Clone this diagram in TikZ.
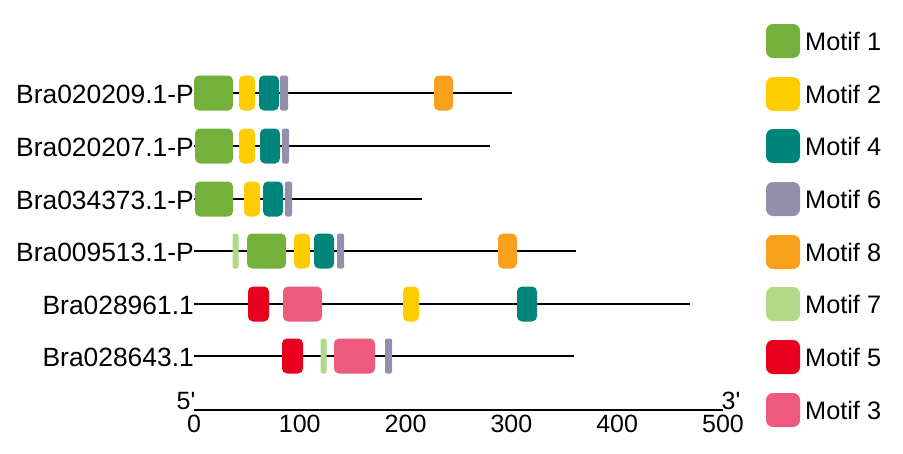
\documentclass[tikz,border=0pt]{standalone}
\usepackage{fontspec}
\setmainfont{Liberation Sans}
\newfontfamily\plainf{Liberation Sans}
\definecolor{mA}{HTML}{74B13C}
\definecolor{mB}{HTML}{FECC00}
\definecolor{mD}{HTML}{00857A}
\definecolor{mF}{HTML}{948FAA}
\definecolor{mH}{HTML}{F9A01B}
\definecolor{mG}{HTML}{B2D987}
\definecolor{mE}{HTML}{E8001C}
\definecolor{mC}{HTML}{EE5A7E}
\newcommand\mtf[5]{\node[motif, fill=#2, minimum width={(#4-#3)*1pt}] (#1) at ({(#3+#4)/2},#5) {};}
\begin{document}
\begin{tikzpicture}[x=1pt,y=-1pt,
  motif/.style={draw=none, rounded corners=5pt, minimum height=35pt, inner sep=0pt, outer sep=0pt},
  legbox/.style={draw=none, rounded corners=7pt, minimum width=34pt, minimum height=34pt, inner sep=0pt},
  backbone/.style={line width=2pt, black},
  lbl/.style={font=\fontsize{26.4}{30}\selectfont, inner sep=0pt, anchor=base east},
  legtxt/.style={font=\fontsize{25.3}{30}\selectfont, inner sep=0pt, anchor=base west},
  tick/.style={font=\plainf\fontsize{25}{30}\selectfont, inner sep=0pt, anchor=base}]
\useasboundingbox (0,0) rectangle (903,453);
% backbones
\foreach \n/\y/\e in {1/93/512, 2/146/490, 3/199/422, 4/251/576, 5/304/690, 6/356/574}{
  \coordinate (s\n) at (194,\y);
  \coordinate (e\n) at (\e,\y);
  \draw[backbone] (s\n) -- (e\n);
}
% labels
\node[lbl] (l1) at (194,103) {Bra020209.1-P};
\node[lbl] (l2) at (194,156) {Bra020207.1-P};
\node[lbl] (l3) at (194,209) {Bra034373.1-P};
\node[lbl] (l4) at (194,261) {Bra009513.1-P};
\node[lbl] (l5) at (194,314) {Bra028961.1};
\node[lbl] (l6) at (194,366) {Bra028643.1};
% row 1
\mtf{r1a}{mA}{194}{233}{93}
\mtf{r1b}{mB}{239}{255}{93}
\mtf{r1c}{mD}{259}{279}{93}
\node[motif, rounded corners=2pt, fill=mF, minimum width=8pt] (r1d) at (284,93) {};
\mtf{r1e}{mH}{434}{453}{93}
% row 2
\mtf{r2a}{mA}{195}{233}{146}
\mtf{r2b}{mB}{239}{255}{146}
\mtf{r2c}{mD}{260}{280}{146}
\node[motif, rounded corners=2pt, fill=mF, minimum width=7pt] (r2d) at (285.5,146) {};
% row 3
\mtf{r3a}{mA}{195}{233}{199}
\mtf{r3b}{mB}{244}{260}{199}
\mtf{r3c}{mD}{263}{283}{199}
\node[motif, rounded corners=2pt, fill=mF, minimum width=7pt] (r3d) at (288.5,199) {};
% row 4
\node[motif, rounded corners=2pt, fill=mG, minimum width=6pt] (r4a) at (235.5,251) {};
\mtf{r4b}{mA}{247}{286}{251}
\mtf{r4c}{mB}{294}{310}{251}
\mtf{r4d}{mD}{314}{334}{251}
\node[motif, rounded corners=2pt, fill=mF, minimum width=7pt] (r4e) at (340.5,251) {};
\mtf{r4f}{mH}{498}{517}{251}
% row 5
\mtf{r5a}{mE}{248}{269}{304}
\mtf{r5b}{mC}{283}{322}{304}
\mtf{r5c}{mB}{403}{419}{304}
\mtf{r5d}{mD}{517}{537}{304}
% row 6
\mtf{r6a}{mE}{282}{303}{356}
\node[motif, rounded corners=2pt, fill=mG, minimum width=6pt] (r6b) at (323.5,356) {};
\mtf{r6c}{mC}{334}{375}{356}
\node[motif, rounded corners=2pt, fill=mF, minimum width=7pt] (r6d) at (388.5,356) {};
% axis
\coordinate (a0) at (194,410);
\coordinate (a1) at (723,410);
\draw[backbone] (a0) -- (a1);
\node[tick] (p5) at (186,409) {5'};
\node[tick] (p3) at (731,409) {3'};
\foreach \v in {0,100,200,300,400,500}{
  \node[tick] (t\v) at ({194+\v*1.058},432) {\v};
}
% legend
\foreach \i/\c/\t/\y in {1/mA/Motif 1/41, 2/mB/Motif 2/94, 3/mD/Motif 4/146, 4/mF/Motif 6/199, 5/mH/Motif 8/252, 6/mG/Motif 7/304, 7/mE/Motif 5/357, 8/mC/Motif 3/410}{
  \node[legbox, fill=\c] (g\i) at (783,\y) {};
  \node[legtxt] (gt\i) at (805,{\y+9.5}) {\t};
}
\end{tikzpicture}
\end{document}
